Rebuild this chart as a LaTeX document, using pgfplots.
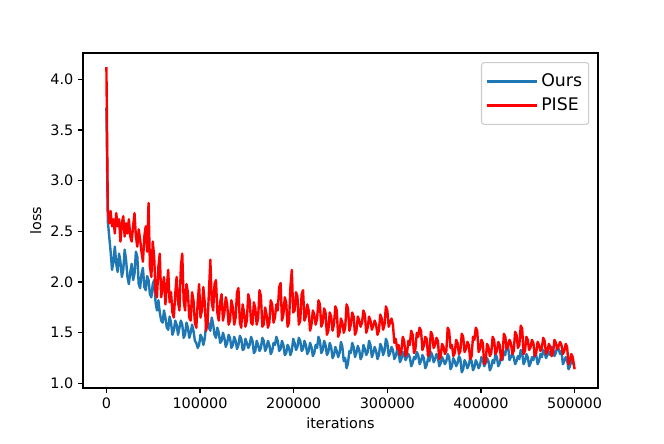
\documentclass[border=0pt]{standalone}
\usepackage{pgfplots}
\pgfplotsset{compat=1.18}
\usepackage{pgfplotstable}
\usepackage{fontspec}
\setmainfont{DejaVu Sans}
\definecolor{mplblue}{HTML}{1F77B4}
\pgfplotstableread{
x ours pise
0 3.72 4.12
1500 2.60 2.72
3000 2.45 2.58
4500 2.30 2.70
6000 2.12 2.55
7500 2.20 2.62
9000 2.35 2.48
10500 2.18 2.68
12000 2.10 2.55
13500 2.28 2.62
15000 2.20 2.40
16500 2.05 2.58
18000 2.12 2.65
19500 2.32 2.45
21000 2.22 2.58
22500 2.05 2.48
24000 1.98 2.62
25500 2.10 2.45
27000 2.18 2.40
28500 2.02 2.55
30000 2.08 2.68
31500 2.30 2.45
33000 2.25 2.35
34500 1.98 2.52
36000 1.94 2.42
37500 2.08 2.30
39000 2.14 2.20
40500 1.95 2.45
42000 1.92 2.55
43500 2.06 2.30
45000 2.02 2.78
46500 1.88 2.15
48000 1.85 2.05
49500 1.98 2.40
51000 2.02 2.25
52500 1.80 1.90
54000 1.72 1.85
55500 1.82 2.15
57000 1.70 2.28
58500 1.62 1.85
60000 1.60 1.95
61500 1.72 2.05
63000 1.65 1.78
64500 1.55 1.95
66000 1.53 2.12
67500 1.66 1.80
69000 1.60 1.90
70500 1.48 1.70
72000 1.52 1.65
73500 1.62 1.88
75000 1.58 2.05
76500 1.48 1.80
78000 1.55 1.72
79500 1.62 2.15
81000 1.58 2.28
82500 1.45 1.82
84000 1.48 1.72
85500 1.60 1.98
87000 1.55 1.90
88500 1.45 1.65
90000 1.50 1.62
91500 1.58 1.90
93000 1.52 1.82
94500 1.42 1.60
96000 1.40 1.55
97500 1.35 1.80
99000 1.38 1.98
100500 1.48 1.65
102000 1.45 1.72
103500 1.38 1.95
105000 1.44 1.80
106500 1.58 1.52
108000 1.64 1.60
109500 1.55 1.90
111000 1.52 2.22
112500 1.65 1.80
114000 1.58 1.72
115500 1.48 1.98
117000 1.45 2.02
118500 1.55 1.70
120000 1.50 1.62
121500 1.40 1.80
123000 1.42 1.88
124500 1.50 1.62
126000 1.45 1.70
127500 1.36 1.85
129000 1.40 1.78
130500 1.48 1.58
132000 1.45 1.62
133500 1.35 1.82
135000 1.38 1.75
136500 1.46 1.58
138000 1.42 1.65
139500 1.34 1.90
141000 1.38 1.94
142500 1.47 1.60
144000 1.44 1.55
145500 1.33 1.78
147000 1.34 1.70
148500 1.44 1.56
150000 1.40 1.62
151500 1.35 1.88
153000 1.38 1.82
154500 1.46 1.60
156000 1.42 1.58
157500 1.30 1.80
159000 1.32 1.74
160500 1.42 1.58
162000 1.38 1.64
163500 1.32 1.92
165000 1.35 1.86
166500 1.45 1.56
168000 1.42 1.58
169500 1.32 1.75
171000 1.35 1.68
172500 1.42 1.55
174000 1.38 1.60
175500 1.29 1.82
177000 1.32 1.78
178500 1.40 1.60
180000 1.38 1.65
181500 1.46 1.78
183000 1.42 1.72
184500 1.32 1.95
186000 1.34 1.99
187500 1.42 1.62
189000 1.38 1.68
190500 1.28 1.85
192000 1.30 1.80
193500 1.38 1.56
195000 1.35 1.60
196500 1.28 1.95
198000 1.32 2.12
199500 1.44 1.70
201000 1.40 1.72
202500 1.33 1.90
204000 1.36 1.86
205500 1.45 1.58
207000 1.42 1.62
208500 1.32 1.88
210000 1.34 1.92
211500 1.42 1.62
213000 1.38 1.66
214500 1.29 1.78
216000 1.32 1.72
217500 1.40 1.52
219000 1.36 1.58
220500 1.27 1.72
222000 1.30 1.68
223500 1.38 1.58
225000 1.35 1.64
226500 1.46 1.82
228000 1.42 1.78
229500 1.30 1.56
231000 1.33 1.60
232500 1.42 1.74
234000 1.38 1.70
235500 1.28 1.48
237000 1.31 1.52
238500 1.40 1.70
240000 1.36 1.66
241500 1.25 1.52
243000 1.28 1.58
244500 1.36 1.76
246000 1.32 1.72
247500 1.26 1.46
249000 1.30 1.50
250500 1.41 1.64
252000 1.36 1.60
253500 1.22 1.50
255000 1.25 1.55
256500 1.15 1.78
258000 1.20 1.74
259500 1.32 1.52
261000 1.30 1.58
262500 1.40 1.70
264000 1.36 1.66
265500 1.26 1.48
267000 1.30 1.52
268500 1.37 1.66
270000 1.33 1.62
271500 1.24 1.56
273000 1.27 1.60
274500 1.38 1.72
276000 1.34 1.68
277500 1.28 1.50
279000 1.31 1.55
280500 1.42 1.66
282000 1.38 1.62
283500 1.26 1.53
285000 1.30 1.57
286500 1.36 1.62
288000 1.32 1.58
289500 1.24 1.48
291000 1.28 1.52
292500 1.39 1.68
294000 1.36 1.64
295500 1.28 1.53
297000 1.32 1.58
298500 1.44 1.76
300000 1.40 1.72
301500 1.27 1.56
303000 1.30 1.60
304500 1.36 1.64
306000 1.33 1.58
307500 1.24 1.40
309000 1.27 1.44
310500 1.33 1.34
312000 1.30 1.38
313500 1.21 1.28
315000 1.24 1.32
316500 1.31 1.46
318000 1.28 1.42
319500 1.23 1.27
321000 1.26 1.30
322500 1.29 1.42
324000 1.26 1.38
325500 1.17 1.52
327000 1.20 1.48
328500 1.26 1.30
330000 1.24 1.34
331500 1.31 1.50
333000 1.28 1.46
334500 1.19 1.55
336000 1.22 1.52
337500 1.28 1.33
339000 1.25 1.37
340500 1.15 1.46
342000 1.18 1.44
343500 1.25 1.27
345000 1.22 1.30
346500 1.31 1.51
348000 1.28 1.48
349500 1.21 1.35
351000 1.24 1.38
352500 1.29 1.45
354000 1.26 1.42
355500 1.17 1.24
357000 1.20 1.27
358500 1.26 1.39
360000 1.23 1.36
361500 1.19 1.29
363000 1.22 1.32
364500 1.29 1.55
366000 1.26 1.52
367500 1.14 1.35
369000 1.17 1.38
370500 1.25 1.27
372000 1.22 1.30
373500 1.17 1.43
375000 1.20 1.40
376500 1.27 1.29
378000 1.24 1.32
379500 1.11 1.49
381000 1.14 1.46
382500 1.23 1.31
384000 1.20 1.34
385500 1.15 1.41
387000 1.18 1.38
388500 1.25 1.24
390000 1.22 1.27
391500 1.13 1.46
393000 1.16 1.43
394500 1.23 1.55
396000 1.20 1.52
397500 1.15 1.31
399000 1.18 1.34
400500 1.26 1.43
402000 1.23 1.40
403500 1.17 1.19
405000 1.20 1.22
406500 1.25 1.39
408000 1.22 1.36
409500 1.13 1.27
411000 1.16 1.30
412500 1.23 1.46
414000 1.20 1.43
415500 1.29 1.29
417000 1.26 1.32
418500 1.17 1.41
420000 1.20 1.38
421500 1.26 1.23
423000 1.23 1.26
424500 1.31 1.49
426000 1.28 1.46
427500 1.40 1.34
429000 1.37 1.37
430500 1.23 1.43
432000 1.26 1.40
433500 1.29 1.29
435000 1.26 1.32
436500 1.19 1.51
438000 1.22 1.48
439500 1.27 1.35
441000 1.24 1.38
442500 1.33 1.57
444000 1.30 1.54
445500 1.19 1.29
447000 1.22 1.32
448500 1.29 1.46
450000 1.26 1.43
451500 1.17 1.33
453000 1.20 1.36
454500 1.26 1.43
456000 1.23 1.40
457500 1.31 1.27
459000 1.28 1.30
460500 1.19 1.41
462000 1.22 1.38
463500 1.29 1.32
465000 1.26 1.35
466500 1.33 1.45
468000 1.30 1.42
469500 1.25 1.29
471000 1.28 1.32
472500 1.31 1.39
474000 1.28 1.36
475500 1.36 1.27
477000 1.33 1.30
478500 1.27 1.43
480000 1.30 1.40
481500 1.37 1.34
483000 1.34 1.37
484500 1.29 1.41
486000 1.32 1.38
487500 1.19 1.29
489000 1.22 1.32
490500 1.26 1.39
492000 1.23 1.36
493500 1.14 1.19
495000 1.17 1.22
496500 1.23 1.29
498000 1.20 1.26
500000 1.18 1.14
}\losstable
\begin{document}
\begin{tikzpicture}
\begin{axis}[
  at={(0,0)}, anchor=south west,
  scale only axis,
  width=386.25pt, height=251.25pt,
  xmin=-25000, xmax=525000,
  ymin=0.955, ymax=4.26,
  xtick={0,100000,200000,300000,400000,500000},
  ytick={1.0,1.5,2.0,2.5,3.0,3.5,4.0},
  scaled x ticks=false,
  xticklabel style={/pgf/number format/fixed,/pgf/number format/1000 sep={}},
  yticklabel style={/pgf/number format/fixed,/pgf/number format/fixed zerofill,/pgf/number format/precision=1},
  /pgf/number format/assume math mode=true,
  tick label style={font=\fontsize{10.8}{13}\selectfont},
  label style={font=\fontsize{10.8}{13}\selectfont},
  xlabel={iterations}, ylabel={loss},
  tick align=outside,
  major tick length=3.75pt,
  xtick pos=bottom, ytick pos=left,
  axis line style={line width=0.87pt},
  every tick/.style={black, line width=0.87pt},
  legend style={at={(0.983,0.973)}, anchor=north east,
    draw=black!20, rounded corners=2pt, line width=0.8pt,
    font=\fontsize{13}{16}\selectfont,
    row sep=3pt, inner xsep=3pt, inner ysep=6.5pt},
  legend cell align=left,
  legend image code/.code={\draw[#1] (0pt,0pt) -- (28pt,0pt); \path (0pt,0pt) -- (38pt,0pt);},
]
\addplot[mplblue, line width=1.8pt, line join=round] table[x=x,y=ours] {\losstable};
\addlegendentry{Ours}
\addplot[red, line width=1.8pt, line join=round] table[x=x,y=pise] {\losstable};
\addlegendentry{PISE}
\end{axis}
\pgfresetboundingbox
\path (-62.25pt,-41.25pt) rectangle (435.75pt,291pt);
\end{tikzpicture}
\end{document}
